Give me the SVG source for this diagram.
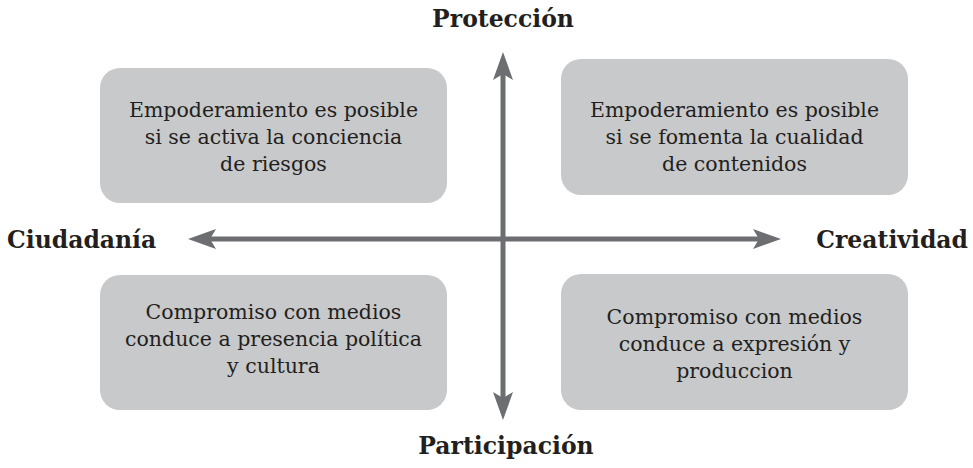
<svg xmlns="http://www.w3.org/2000/svg" width="973" height="468" viewBox="0 0 973 468">
<style>
.box{fill:#c8c9cb;}
.t{font-family:"DejaVu Serif","Liberation Serif",serif;font-size:20.5px;fill:#231f20;text-anchor:middle;}
.lbl{font-family:"DejaVu Serif","Liberation Serif",serif;font-size:23.5px;font-weight:bold;fill:#231f20;}
.ax{stroke:#6d6e71;stroke-width:5;fill:none;}
.ah{fill:#6d6e71;}
</style>
<rect width="973" height="468" fill="#ffffff"/>
<g id="connectors">
<line class="ax" x1="503" y1="70" x2="503" y2="402"/>
<line class="ax" x1="206" y1="239" x2="763" y2="239"/>
<polygon class="ah" points="503,52 513,80 503,74 493,80"/>
<polygon class="ah" points="503,420 513,392 503,398 493,392"/>
<polygon class="ah" points="188,239 216,229 210,239 216,249"/>
<polygon class="ah" points="781,239 753,229 759,239 753,249"/>
</g>
<g id="node-tl">
<rect class="box" x="100" y="68" width="347" height="135" rx="20"/>
<text class="t" x="273.5" y="117">Empoderamiento es posible</text>
<text class="t" x="273.5" y="144">si se activa la conciencia</text>
<text class="t" x="273.5" y="171">de riesgos</text>
</g>
<g id="node-tr">
<rect class="box" x="561" y="59" width="347" height="136" rx="20"/>
<text class="t" x="734.5" y="117">Empoderamiento es posible</text>
<text class="t" x="734.5" y="144">si se fomenta la cualidad</text>
<text class="t" x="734.5" y="171">de contenidos</text>
</g>
<g id="node-bl">
<rect class="box" x="100" y="275" width="347" height="135" rx="20"/>
<text class="t" x="273.5" y="319">Compromiso con medios</text>
<text class="t" x="273.5" y="346">conduce a presencia política</text>
<text class="t" x="273.5" y="373">y cultura</text>
</g>
<g id="node-br">
<rect class="box" x="561" y="274" width="347" height="136" rx="20"/>
<text class="t" x="734.5" y="324">Compromiso con medios</text>
<text class="t" x="734.5" y="351">conduce a expresión y</text>
<text class="t" x="734.5" y="378">produccion</text>
</g>
<g id="label-top"><text class="lbl" x="503" y="27" text-anchor="middle">Protección</text></g>
<g id="label-bottom"><text class="lbl" x="506" y="454" text-anchor="middle">Participación</text></g>
<g id="label-left"><text class="lbl" x="7" y="248">Ciudadanía</text></g>
<g id="label-right"><text class="lbl" x="968" y="248" text-anchor="end">Creatividad</text></g>
</svg>
